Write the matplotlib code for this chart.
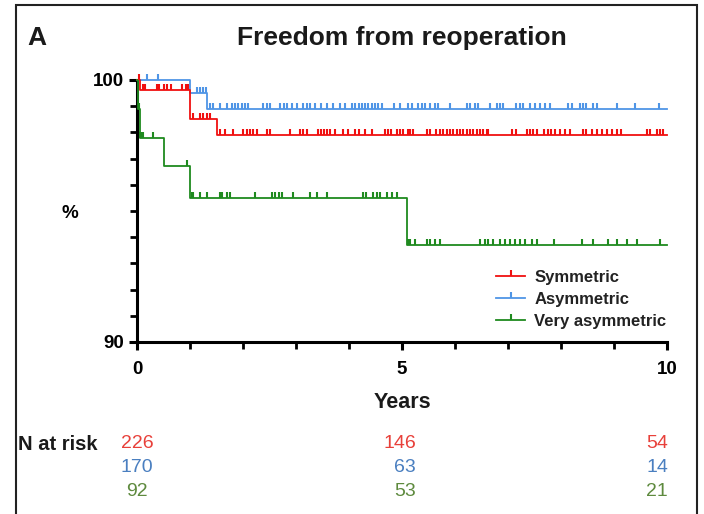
import numpy as np
import matplotlib
matplotlib.use("Agg")
import matplotlib.pyplot as plt
from matplotlib.lines import Line2D
from matplotlib.markers import TICKUP
from matplotlib.patches import Rectangle

plt.rcParams['font.family'] = ['Liberation Sans', 'DejaVu Sans']

# ---- data ----
group_names = ["Symmetric", "Asymmetric", "Very asymmetric"]

red_times = [0, 0.05, 1.0, 1.5, 10]
red_surv = [100, 99.6, 98.5, 97.9, 97.9]
blue_times = [0, 1.0, 1.33, 10]
blue_surv = [100, 99.5, 98.9, 98.9]
green_times = [0, 0.02, 0.05, 0.5, 1.0, 5.09, 10]
green_surv = [100, 98.9, 97.8, 96.7, 95.5, 93.7, 93.7]

red_censor = [0.04, 0.12, 0.15, 0.37, 0.42, 0.5, 0.56, 0.65, 0.84, 0.92, 0.97,
              1.06, 1.19, 1.25, 1.32, 1.38,
              1.57, 1.66, 1.82, 2.0, 2.07, 2.13, 2.19, 2.26, 2.45, 2.51, 2.89, 3.08,
              3.14, 3.2, 3.42, 3.48, 3.52, 3.58, 3.64, 3.74, 3.89, 3.99,
              4.11, 4.18, 4.3, 4.43, 4.68, 4.74, 4.8, 4.9, 4.96, 5.02, 5.12, 5.15,
              5.21, 5.47, 5.53, 5.65, 5.72, 5.78, 5.84, 5.91, 5.97, 6.03, 6.09,
              6.16, 6.22, 6.28, 6.34, 6.41, 6.47, 6.53, 6.6, 6.63, 7.07, 7.16,
              7.35, 7.42, 7.48, 7.54, 7.67, 7.76, 7.82, 7.89, 7.98, 8.08, 8.17,
              8.42, 8.48, 8.58, 8.67, 8.77, 8.86, 8.96, 9.05, 9.14, 9.62, 9.68,
              9.81, 9.87, 9.93]
blue_censor = [0.18, 0.40, 1.13, 1.19, 1.25, 1.31,
               1.38, 1.44, 1.57, 1.69, 1.79, 1.85, 1.91, 1.98, 2.04, 2.10, 2.38,
               2.45, 2.51, 2.7, 2.77, 2.83, 2.92, 3.01, 3.14, 3.2, 3.26, 3.36,
               3.48, 3.58, 3.7, 3.83, 3.92,
               4.05, 4.11, 4.18, 4.24, 4.30, 4.36, 4.43, 4.49, 4.55, 4.62, 4.84,
               4.96, 5.12, 5.18, 5.31, 5.37, 5.43, 5.53, 5.62, 5.68, 5.91, 6.22,
               6.28, 6.38, 6.44, 6.66, 6.79, 6.85, 6.91, 7.16, 7.23, 7.29, 7.42,
               7.51, 7.60, 7.70, 7.79, 8.14, 8.20, 8.36, 8.42, 8.48, 8.61, 8.67,
               9.05, 9.40, 9.84]
green_censor = [0.03, 0.06, 0.09, 0.12, 0.31, 0.94,
                1.03, 1.06, 1.19, 1.32, 1.57, 1.60, 1.69, 1.75, 2.23, 2.54, 2.60,
                2.67, 2.73, 2.95, 3.26, 3.39, 3.58, 4.27, 4.33, 4.46, 4.52, 4.58,
                4.71, 4.81, 4.90,
                5.11, 5.15, 5.25, 5.47, 5.53, 5.62, 5.72, 6.47, 6.57, 6.63, 6.72,
                6.85, 6.94, 7.04, 7.13, 7.23, 7.32, 7.45, 7.54, 7.86, 8.39, 8.61,
                8.89, 9.05, 9.24, 9.43, 9.87]

risk_times = [0, 5, 10]
red_risk = [226, 146, 54]
blue_risk = [170, 63, 14]
green_risk = [92, 53, 21]

# ---- styling ----
W, H = 704, 514
fig = plt.figure(figsize=(W / 100, H / 100), dpi=100)

def fx(x):
    return x / W

def fy(y):
    return 1 - y / H

line_cols = ["#f01010", "#4f95e6", "#1f8a1f"]
text_cols = ["#e8403a", "#4a7fc0", "#5e8a3e"]

ax_l, ax_r, ax_t, ax_b = 137, 667, 80, 342
ax = fig.add_axes([fx(ax_l), fy(ax_b), fx(ax_r - ax_l), (ax_b - ax_t) / H])
ax.set_xlim(0, 10)
ax.set_ylim(90, 100)

series = [
    (blue_times, blue_surv, blue_censor, line_cols[1]),
    (red_times, red_surv, red_censor, line_cols[0]),
    (green_times, green_surv, green_censor, line_cols[2]),
]
for times, surv, cens, col in series:
    ax.step(times, surv, where='post', color=col, lw=1.3, clip_on=False, zorder=3)
    t = np.asarray(times)
    s = np.asarray(surv)
    c = np.asarray(cens)
    idx = np.searchsorted(t, c, side='right') - 1
    ax.plot(c, s[idx], ls='none', marker=TICKUP, ms=4.5, mew=1.5, color=col,
            clip_on=False, zorder=4)

leg_handles = [Line2D([0], [0], color=line_cols[i], lw=1.3, marker=TICKUP, ms=4.5,
                      mew=1.5) for i in range(3)]
leg = ax.legend(leg_handles, group_names, loc='upper left',
                bbox_to_anchor=((496 - ax_l) / (ax_r - ax_l), 1 - (270 - ax_t) / (ax_b - ax_t)),
                frameon=False, handlelength=1.75, handletextpad=0.55, labelspacing=0.42,
                borderpad=0, borderaxespad=0,
                prop={'size': 12, 'weight': 'bold'})
for txt in leg.get_texts():
    txt.set_color('#222222')

for sp in ['top', 'right']:
    ax.spines[sp].set_visible(False)
for sp in ['left', 'bottom']:
    ax.spines[sp].set_linewidth(2.2)
    ax.spines[sp].set_color('black')

ax.set_xticks([0, 5, 10])
ax.set_xticks(np.arange(0, 11, 1), minor=True)
ax.set_yticks([90, 100])
ax.set_yticks(np.arange(90, 101, 1), minor=True)
ax.tick_params(which='major', length=6, width=2.2, direction='out', labelsize=13.5)
ax.tick_params(axis='x', which='major', pad=8)
ax.tick_params(axis='y', which='major', pad=3)
ax.tick_params(which='minor', length=5, width=2.0, direction='out')
for lab in ax.get_xticklabels() + ax.get_yticklabels():
    lab.set_fontweight('bold')

# texts
fig.text(fx(402), fy(38), "Freedom from reoperation", ha='center', va='center',
         fontsize=19, fontweight='bold', color='#1a1a1a')
fig.text(fx(27), fy(38), "A", ha='left', va='center', fontsize=19, fontweight='bold',
         color='#1a1a1a')
fig.text(fx(70), fy(213), "%", ha='center', va='center', fontsize=13.5, fontweight='bold')
fig.text(fx(402), fy(403), "Years", ha='center', va='center', fontsize=15.5,
         fontweight='bold', color='#1a1a1a')
fig.text(fx(18), fy(444), "N at risk", ha='left', va='center', fontsize=14.5,
         fontweight='bold', color='#1a1a1a')

# number at risk
row_y = [444, 468, 492]
for r, vals in enumerate([red_risk, blue_risk, green_risk]):
    for tt, v in zip(risk_times, vals):
        xpix = ax_l + tt * (ax_r - ax_l) / 10
        if tt == 0:
            ha, xx = 'center', xpix
        else:
            ha, xx = 'right', xpix + (14 if tt == 5 else 1)
        fig.text(fx(xx), fy(row_y[r]), str(v), ha=ha, va='center', fontsize=14,
                 color=text_cols[r])

# frame border
fig.patches.append(Rectangle((fx(16), -0.1), fx(697 - 16), fy(5) + 0.1,
                             transform=fig.transFigure, fill=False, lw=1.5,
                             edgecolor='#222222'))

fig.savefig("out.png", dpi=100)
